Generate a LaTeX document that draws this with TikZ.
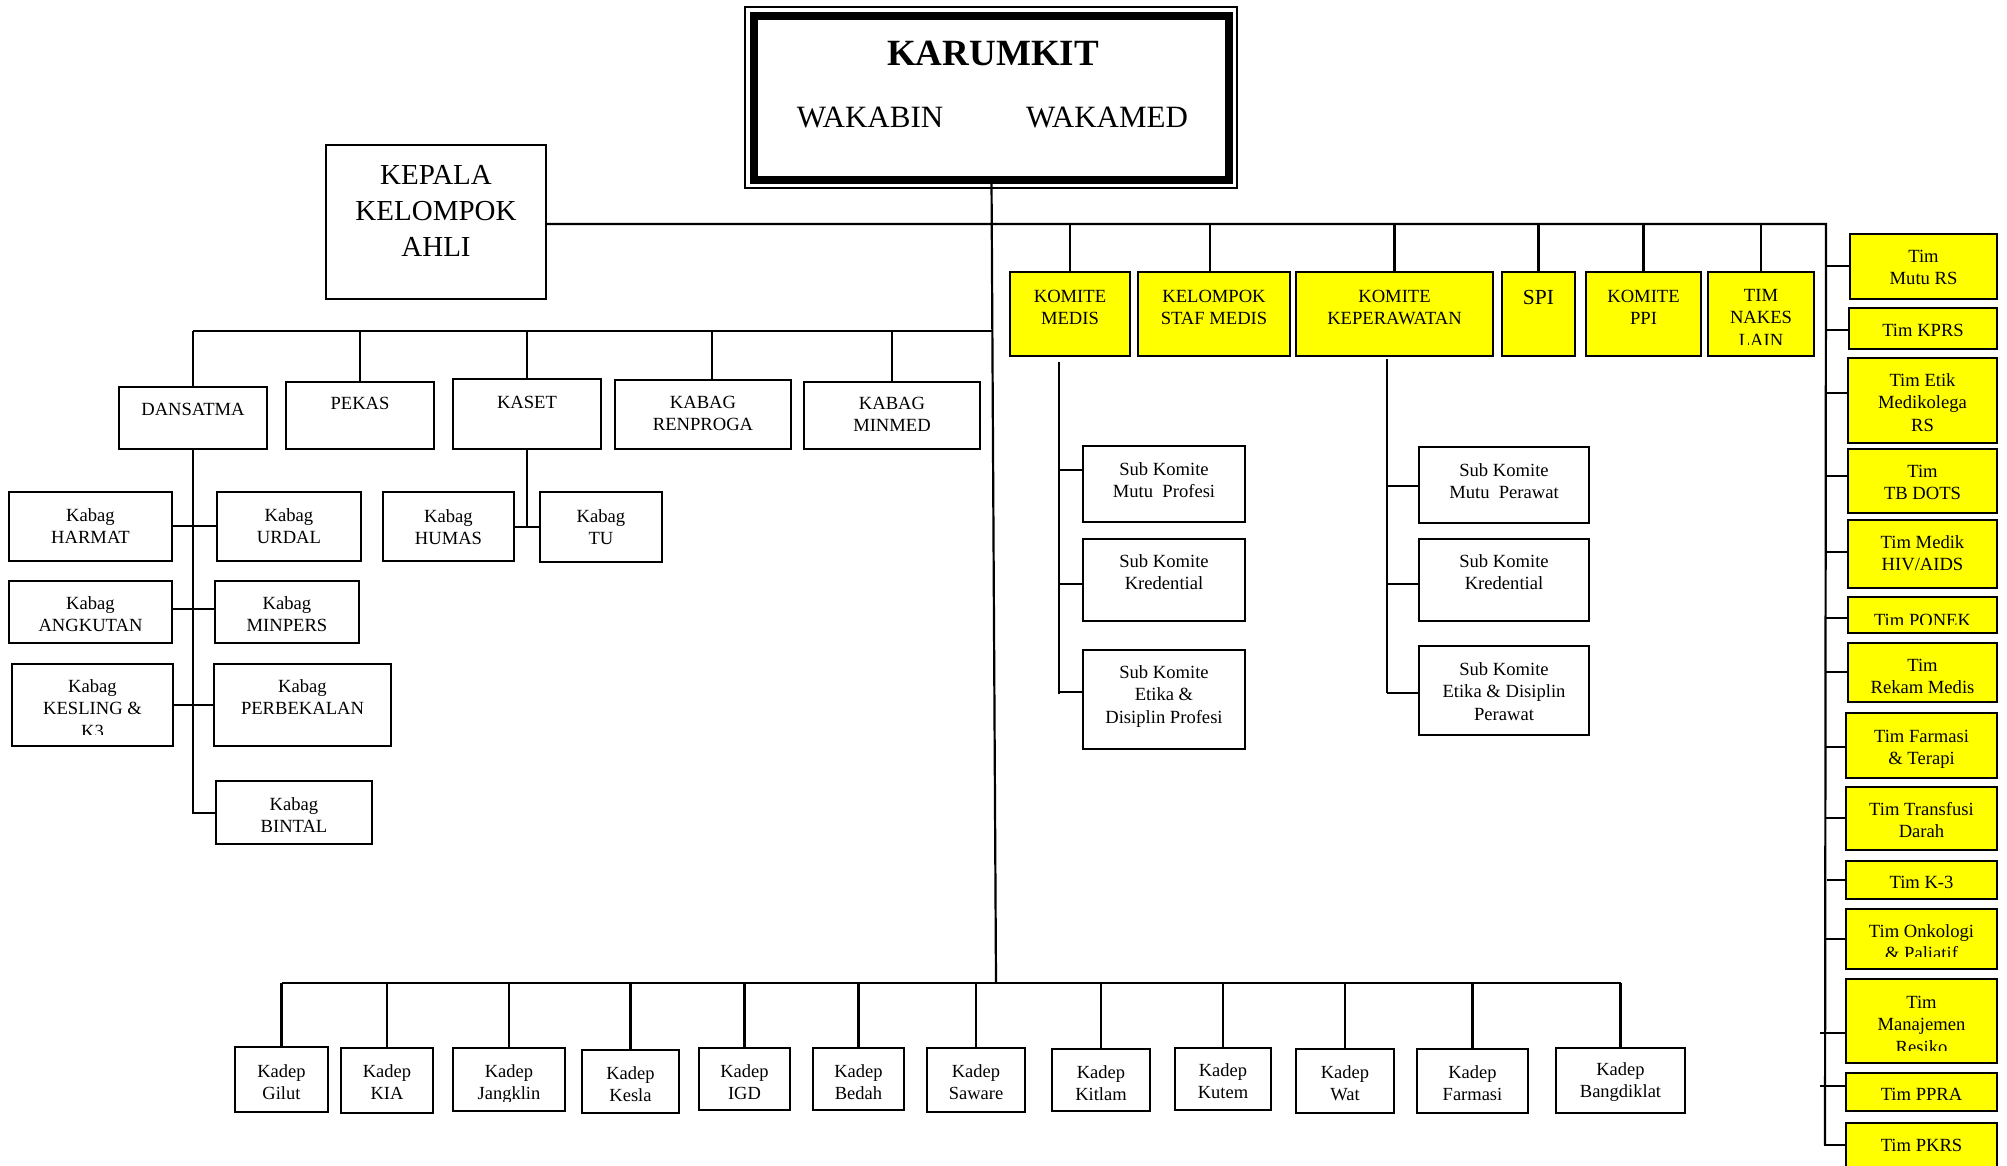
\documentclass[tikz,border=0pt]{standalone}
\usepackage{fontspec}
\setmainfont{Liberation Serif}
\definecolor{yfill}{RGB}{255,255,0}
% box: \bx[style]{x1}{y1}{x2}{y2}{name}
\newcommand{\bx}[6][box]{\node[#1,anchor=north west,minimum width={#4-#2},minimum height={#5-#3}] (#6) at (#2,#3) {};}
% text block: \tx[opts]{name}{x}{first baseline}{lines}
\newcommand{\tx}[5][]{\node[lbl,#1] (#2) at (#3,{#4-14}) {\rule{0pt}{14pt}#5};}
\begin{document}
\begin{tikzpicture}[x=1pt,y=-1pt,line width=2.2pt,
  box/.style={draw,line width=2.4pt,fill=white,inner sep=0pt,outer sep=0pt},
  ybox/.style={box,fill=yfill},
  lbl/.style={inner sep=0pt,outer sep=0pt,align=center,anchor=north,font=\fontsize{18.6}{22.8}\selectfont},
  kd/.style={font=\fontsize{18.5}{22}\selectfont}]
\useasboundingbox (0,0) rectangle (2007,1165);
\clip (0,0) rectangle (2007,1165);

% ---- head ----
\node[draw,line width=8pt,inner sep=0pt,outer sep=0pt,anchor=north west,minimum width=475,minimum height=164] (karumkit) at (754,15.5) {};
\draw[line width=1.5pt] (745,7) rectangle (1237,188);
\node[font=\bfseries\fontsize{37}{40}\selectfont,anchor=base,inner sep=0pt] (kt) at (993,65) {KARUMKIT};
\node[font=\fontsize{31}{34}\selectfont,anchor=base,inner sep=0pt] (wb) at (870,127) {WAKABIN};
\node[font=\fontsize{31}{34}\selectfont,anchor=base,inner sep=0pt] (wm) at (1107,127) {WAKAMED};

\bx[box,line width=2pt]{326}{145}{546}{299}{kepala}
\node[lbl,font=\fontsize{29}{36}\selectfont] (kepala-t) at (436,{184-22}) {\rule{0pt}{22pt}KEPALA\\KELOMPOK\\AHLI};

% ---- left wing ----
\bx{119}{387}{267}{449}{dansatma}   \tx{dansatma-t}{193}{415}{DANSATMA}
\bx{286}{382}{434}{449}{pekas}      \tx{pekas-t}{360}{409}{PEKAS}
\bx{453}{379}{601}{449}{kaset}      \tx{kaset-t}{527}{408}{KASET}
\bx{615}{380}{791}{449}{renproga}   \tx{renproga-t}{703}{408}{KABAG\\RENPROGA}
\bx{804}{382}{980}{449}{minmed}     \tx{minmed-t}{892}{409}{KABAG\\MINMED}

\bx{9}{492}{172}{561}{harmat}       \tx{harmat-t}{90.5}{521}{Kabag\\HARMAT}
\bx{217}{492}{361}{561}{urdal}      \tx{urdal-t}{289}{521}{Kabag\\URDAL}
\bx{9}{581}{172}{643}{angkutan}     \tx{angkutan-t}{90.5}{609}{Kabag\\ANGKUTAN}
\bx{215}{581}{359}{643}{minpers}    \tx{minpers-t}{287}{609}{Kabag\\MINPERS}
\bx{12}{664}{173}{746}{kesling}
\begin{scope}\clip (12,664) rectangle (173,734);
  \tx{kesling-t}{92.5}{692}{Kabag\\KESLING \&\\K3}
\end{scope}
\bx{214}{664}{391}{746}{perbekalan} \tx{perbekalan-t}{302.5}{692}{Kabag\\PERBEKALAN}
\bx{216}{781}{372}{844}{bintal}     \tx{bintal-t}{294}{810}{Kabag\\BINTAL}
\bx{383}{492}{514}{561}{humas}      \tx{humas-t}{448.5}{522}{Kabag\\HUMAS}
\bx{540}{492}{662}{562}{tu}         \tx{tu-t}{601}{522}{Kabag\\TU}

% ---- committees ----
\bx[ybox]{1010}{272}{1130}{356}{kmedis} \tx{kmedis-t}{1070}{302}{KOMITE\\MEDIS}
\bx[ybox]{1138}{272}{1290}{356}{ksm}    \tx{ksm-t}{1214}{302}{KELOMPOK\\STAF MEDIS}
\bx[ybox]{1296}{272}{1493}{356}{kkep}   \tx{kkep-t}{1394.5}{302}{KOMITE\\KEPERAWATAN}
\bx[ybox]{1502}{272}{1575}{356}{spi}
\node[inner sep=0pt,anchor=base,font=\fontsize{21.5}{24}\selectfont] (spi-t) at (1538.5,304) {SPI};
\bx[ybox]{1586}{272}{1701}{356}{ppi}    \tx{ppi-t}{1643.5}{302}{KOMITE\\PPI}
\bx[ybox]{1708}{272}{1814}{356}{nakes}
\begin{scope}\clip (1708,272) rectangle (1814,344.5);
  \tx{nakes-t}{1761}{301}{TIM\\NAKES\\LAIN}
\end{scope}

\bx{1083}{446}{1245}{522}{smp}  \tx{smp-t}{1164}{475}{Sub Komite\\Mutu\ \ Profesi}
\bx{1083}{539}{1245}{621}{skm}  \tx{skm-t}{1164}{567}{Sub Komite\\Kredential}
\bx{1083}{650}{1245}{749}{sem}  \tx{sem-t}{1164}{678}{Sub Komite\\Etika \&\\Disiplin Profesi}
\bx{1419}{447}{1589}{523}{smw}  \tx{smw-t}{1504}{476}{Sub Komite\\Mutu\ \ Perawat}
\bx{1419}{539}{1589}{621}{skw}  \tx{skw-t}{1504}{567}{Sub Komite\\Kredential}
\bx{1419}{646}{1589}{735}{sew}  \tx{sew-t}{1504}{675}{Sub Komite\\Etika \& Disiplin\\Perawat}

% ---- teams ----
\bx[ybox]{1850}{234}{1997}{299}{t1}  \tx{t1-t}{1923.5}{262}{Tim\\Mutu RS}
\bx[ybox]{1849}{308}{1997}{349}{t2}  \tx{t2-t}{1923}{336}{Tim KPRS}
\bx[ybox]{1848}{358}{1997}{443}{t3}  \tx{t3-t}{1922.5}{386}{Tim Etik\\Medikolega\\RS}
\bx[ybox]{1848}{449}{1997}{513}{t4}  \tx{t4-t}{1922.5}{477}{Tim\\TB DOTS}
\bx[ybox]{1848}{520}{1997}{588}{t5}  \tx{t5-t}{1922.5}{548}{Tim Medik\\HIV/AIDS}
\bx[ybox]{1848}{597}{1997}{633}{t6}
\begin{scope}\clip (1848,597) rectangle (1997,624);
  \tx{t6-t}{1922.5}{626}{Tim PONEK}
\end{scope}
\bx[ybox]{1848}{643}{1997}{702}{t7}  \tx{t7-t}{1922.5}{671}{Tim\\Rekam Medis}
\bx[ybox]{1846}{713}{1997}{778}{t8}  \tx{t8-t}{1921.5}{742}{Tim Farmasi\\\& Terapi}
\bx[ybox]{1846}{787}{1997}{850}{t9}  \tx{t9-t}{1921.5}{815}{Tim Transfusi\\Darah}
\bx[ybox]{1846}{861}{1997}{899}{t10} \tx{t10-t}{1921.5}{888}{Tim K-3}
\bx[ybox]{1846}{909}{1997}{969}{t11}
\begin{scope}\clip (1846,909) rectangle (1997,956.5);
  \tx{t11-t}{1921.5}{937}{Tim Onkologi\\\& Paliatif}
\end{scope}
\bx[ybox]{1846}{979}{1997}{1063}{t12}
\begin{scope}\clip (1846,979) rectangle (1997,1050);
  \tx{t12-t}{1921.5}{1008}{Tim\\Manajemen\\Resiko}
\end{scope}
\bx[ybox]{1846}{1073}{1997}{1111}{t13} \tx{t13-t}{1921.5}{1100}{Tim PPRA}
\bx[ybox]{1846}{1123}{1997}{1172}{t14} \tx{t14-t}{1921.5}{1151}{Tim PKRS}

% ---- departments ----
\bx{235}{1047}{328}{1112}{g1}    \tx[kd]{g1-t}{281.5}{1077}{Kadep\\Gilut}
\bx{341}{1048}{433}{1113}{g2}    \tx[kd]{g2-t}{387}{1077}{Kadep\\KIA}
\bx{453}{1048}{565}{1111}{g3}
\begin{scope}\clip (453,1048) rectangle (565,1101.5);
  \tx[kd]{g3-t}{509}{1077}{Kadep\\Jangklin}
\end{scope}
\bx{582}{1050}{679}{1113}{g4}    \tx[kd]{g4-t}{630.5}{1079}{Kadep\\Kesla}
\bx{699}{1048}{790}{1110}{g5}    \tx[kd]{g5-t}{744.5}{1077}{Kadep\\IGD}
\bx{813}{1048}{904}{1110}{g6}    \tx[kd]{g6-t}{858.5}{1077}{Kadep\\Bedah}
\bx{927}{1048}{1025}{1112}{g7}   \tx[kd]{g7-t}{976}{1077}{Kadep\\Saware}
\bx{1052}{1049}{1150}{1111}{g8}  \tx[kd]{g8-t}{1101}{1078}{Kadep\\Kitlam}
\bx{1175}{1048}{1271}{1110}{g9}  \tx[kd]{g9-t}{1223}{1076}{Kadep\\Kutem}
\bx{1296}{1049}{1394}{1113}{g10} \tx[kd]{g10-t}{1345}{1078}{Kadep\\Wat}
\bx{1417}{1049}{1528}{1113}{g11} \tx[kd]{g11-t}{1472.5}{1078}{Kadep\\Farmasi}
\bx{1556}{1048}{1685}{1113}{g12}
\begin{scope}\clip (1556,1048) rectangle (1685,1101.5);
  \tx[kd]{g12-t}{1620.5}{1075}{Kadep\\Bangdiklat}
\end{scope}

% ---- connectors ----
\coordinate (kbus) at (996,983);
\draw (karumkit.south) -- (kbus);

% right trunk
\coordinate (rtop) at (1826,224);
\coordinate (rbot) at (1825,1145);
\draw (kepala.east |- rtop) -- (rtop) -- (rbot);
\coordinate (ksmx) at (1210,224);
\foreach \n in {kmedis,kkep,spi,ppi,nakes} \draw (\n.north) -- (\n.north |- rtop);
\draw (ksmx) -- (ksm.north -| ksmx);

% left bus
\coordinate (lbus) at (993,331);
\coordinate (renx) at (712,331);
\draw (dansatma.north |- lbus) -- (lbus);
\foreach \n in {dansatma,pekas,kaset,minmed} \draw (\n.north) -- (\n.north |- lbus);
\draw (renx) -- (renproga.north -| renx);

% dansatma branch
\coordinate (dv) at (193,813);
\draw (dansatma.south) -- (dv) -- (bintal.west |- dv);
\coordinate (d1) at (193,526);
\coordinate (d2) at (193,609);
\coordinate (d3) at (193,705);
\draw (harmat.east |- d1) -- (urdal.west |- d1);
\draw (angkutan.east |- d2) -- (minpers.west |- d2);
\draw (kesling.east |- d3) -- (perbekalan.west |- d3);

% kaset branch
\coordinate (kv) at (527,527);
\draw (kaset.south -| kv) -- (kv);
\draw (humas.east |- kv) -- (tu.west |- kv);

% komite medis branch
\coordinate (mv1) at (1059,362);
\coordinate (mv2) at (1059,694);
\draw (mv1) -- (mv2);
\coordinate (ma) at (1059,470);
\coordinate (mb) at (1059,584);
\coordinate (mc) at (1059,692);
\draw (ma) -- (smp.west |- ma);
\draw (mb) -- (skm.west |- mb);
\draw (mc) -- (sem.west |- mc);

% komite keperawatan branch
\coordinate (pv1) at (1387,359);
\coordinate (pv2) at (1387,693);
\draw (pv1) -- (pv2);
\coordinate (pa) at (1387,486);
\coordinate (pb) at (1387,584);
\coordinate (pc) at (1387,693);
\draw (pa) -- (smw.west |- pa);
\draw (pb) -- (skw.west |- pb);
\draw (pc) -- (sew.west |- pc);

% team stubs
\foreach \n/\y/\x in {t1/266/1825,t2/330/1825,t3/393/1825,t4/476/1825,t5/552/1825,t6/618/1825,t7/672/1825,
  t8/747/1825,t9/818/1825,t10/880/1827,t11/939/1825,t12/1033/1820,t13/1086/1820,t14/1145/1824}
  {\coordinate (s-\n) at (\x,\y); \draw (s-\n) -- (\n.west |- s-\n);}

% department bus
\draw (g1.north |- kbus) -- (g12.north |- kbus);
\foreach \n in {g1,g2,g3,g4,g5,g6,g7,g8,g9,g10,g11,g12} \draw (\n.north) -- (\n.north |- kbus);
\end{tikzpicture}
\end{document}
